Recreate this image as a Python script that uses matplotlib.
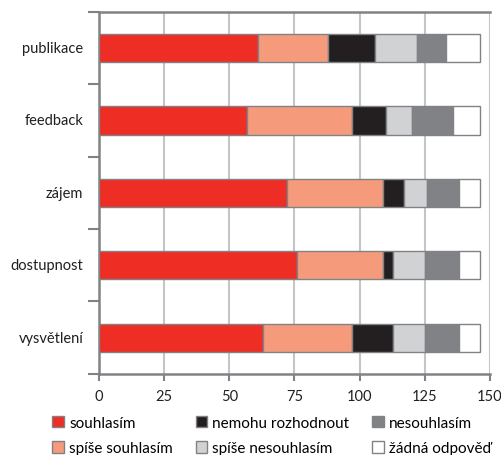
import matplotlib.pyplot as plt
from matplotlib.patches import Patch
import numpy as np

plt.rcParams['font.family'] = ['Lato', 'DejaVu Sans']

categories = ['publikace', 'feedback', 'zájem', 'dostupnost', 'vysvětlení']
series_names = ['souhlasím', 'spíše souhlasím', 'nemohu rozhodnout',
                'spíše nesouhlasím', 'nesouhlasím', 'žádná odpověď']
souhlasim = [61, 57, 72, 76, 63]
spise_souhlasim = [27, 40, 37, 33, 34]
nemohu = [18, 13, 8, 4, 16]
spise_nesouhlasim = [16, 10, 9, 12, 12]
nesouhlasim = [11, 16, 12, 13, 13]
zadna = [13, 10, 8, 8, 8]
x_ticks = [0, 25, 50, 75, 100, 125, 150]

colors = ['#EE2E24', '#F59B7C', '#231F20', '#D1D2D4', '#808285', '#FFFFFF']
edge = '#808285'
axis_col = '#808285'
grid_col = '#C4C5C8'

series = [souhlasim, spise_souhlasim, nemohu, spise_nesouhlasim, nesouhlasim, zadna]

fig = plt.figure(figsize=(5.02, 4.56), dpi=100)
ax = fig.add_axes([0.197, 0.178, 0.779, 0.794])

y = np.arange(len(categories))
left = np.zeros(len(categories))
for vals, col in zip(series, colors):
    ax.barh(y, vals, left=left, height=0.39, color=col, edgecolor=edge,
            linewidth=1.0, zorder=3)
    left += np.array(vals)

for t in x_ticks[1:]:
    ax.axvline(t, color=grid_col, linewidth=1.5, zorder=1)

ax.set_xlim(0, 150)
ax.set_ylim(len(categories) - 0.5, -0.5)
ax.set_xticks(x_ticks)
ax.set_yticks(np.arange(-0.5, len(categories), 1.0))
ax.set_yticklabels([])

# category labels, right aligned left of the axis
for yi, name in zip(y, categories):
    ax.text(-0.04, yi, name, transform=ax.get_yaxis_transform(),
            ha='right', va='center', fontsize=10.5, color='#231F20')

ax.tick_params(axis='y', which='major', length=8, width=1.5, color=axis_col)
ax.tick_params(axis='x', length=5, width=1.5, color=axis_col, labelsize=10.5,
               labelcolor='#231F20', pad=6)

for side in ['left', 'bottom', 'top']:
    ax.spines[side].set_color(axis_col)
    ax.spines[side].set_linewidth(1.8)
ax.spines['right'].set_visible(False)

handles = [Patch(facecolor=c, edgecolor=edge, linewidth=1.0) for c in colors]
fig.legend(handles, series_names, ncol=3, loc='upper left',
           bbox_to_anchor=(0.104, 0.086), frameon=False, fontsize=11,
           handlelength=0.75, handleheight=0.75, handletextpad=0.35,
           columnspacing=1.5, labelspacing=0.75, borderaxespad=0,
           borderpad=0)

fig.savefig('out.png', dpi=100)
